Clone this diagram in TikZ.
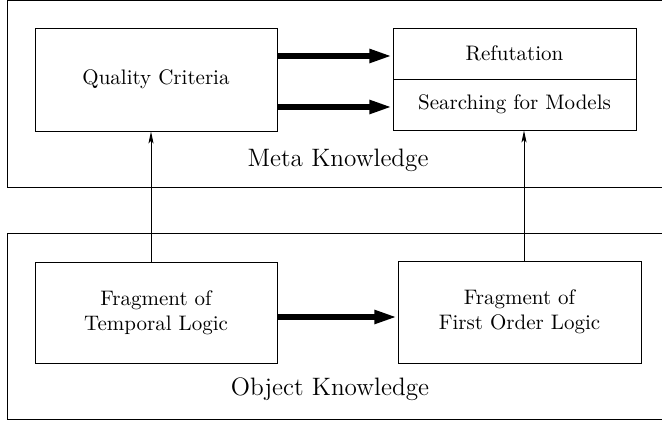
\documentclass[tikz,border=0pt]{standalone}
\usetikzlibrary{arrows.meta}
\begin{document}
\def\u{0.4762pt}
\begin{tikzpicture}[x=\u,y=-\u,
  zone/.style={draw, line width=0.45pt},
  box/.style={draw, line width=0.45pt, rectangle, inner sep=0pt, align=center},
  zonelabel/.style={font=\large, inner sep=0pt},
  bigarrow/.style={line width=2.85pt, -{Triangle[length=11pt,width=6pt]}},
  thinarrow/.style={line width=0.45pt, -{Stealth[length=5.7pt,width=2.4pt,inset=1.2pt]}}]
  \useasboundingbox (0,0) rectangle (662,424);
  \clip (0,0) rectangle (662,424);

  % the two knowledge layers
  \draw[zone] (7,0.5) rectangle (700,187);
  \draw[zone] (7,233) rectangle (700,419);
  \node[zonelabel] (meta) at (338,160) {Meta Knowledge};
  \node[zonelabel] (obj) at (330,389) {Object Knowledge};

  % meta level
  \node[box, minimum width={242*\u}, minimum height={103*\u}] (qc) at (156,79.5) {Quality Criteria};
  \node[box, minimum width={243*\u}, minimum height={51*\u}] (ref) at (514.5,53.5) {Refutation};
  \node[box, minimum width={243*\u}, minimum height={51*\u}] (search) at (514.5,104.5) {Searching for Models};

  % object level
  \node[box, minimum width={242*\u}, minimum height={101*\u}] (tl) at (156,312.5) {Fragment of\\Temporal Logic};
  \node[box, minimum width={243*\u}, minimum height={102*\u}] (fo) at (519.5,312) {Fragment of\\First Order Logic};

  % connectors
  \coordinate (a1) at (0,56);
  \coordinate (a2) at (0,107);
  \coordinate (a3) at (0,317);
  \draw[bigarrow] (qc.east |- a1) -- (ref.west |- a1);
  \draw[bigarrow] (qc.east |- a2) -- (search.west |- a2);
  \draw[bigarrow] (tl.east |- a3) -- (fo.west |- a3);

  \coordinate (la) at (151,0);
  \coordinate (ra) at (524,0);
  \draw[thinarrow] (tl.north -| la) -- (qc.south -| la);
  \draw[thinarrow] (fo.north -| ra) -- (search.south -| ra);
\end{tikzpicture}
\end{document}
